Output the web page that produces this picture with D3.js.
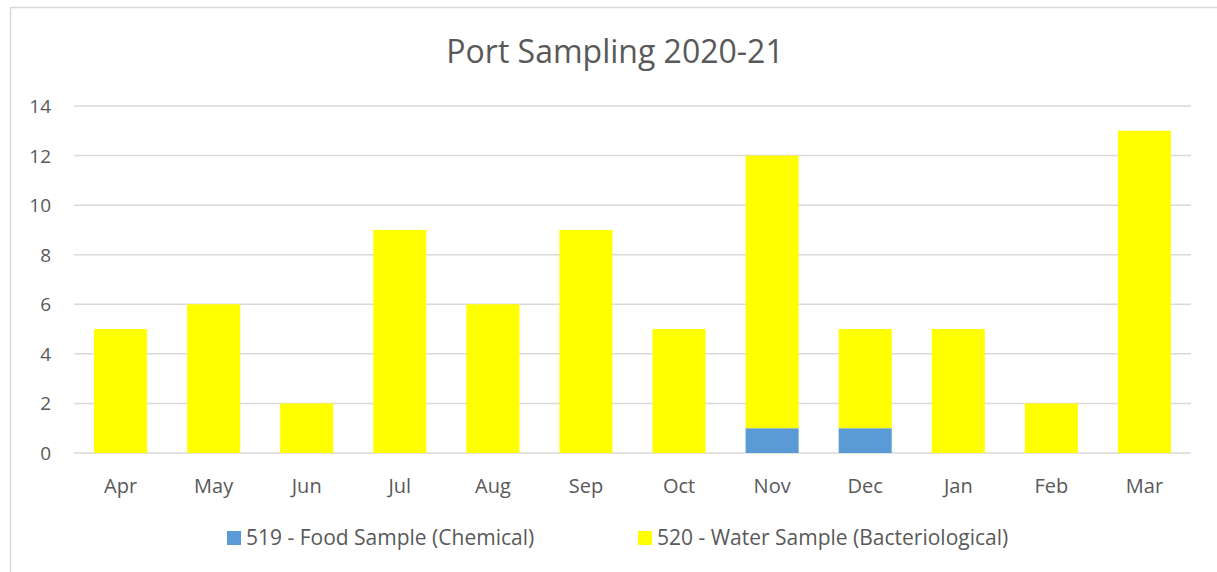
<!DOCTYPE html>
<html lang="en">
<head>
<meta charset="utf-8">
<title>Port Sampling 2020-21</title>
<script src="https://d3js.org/d3.v7.min.js"></script>
<style>
  body { margin: 0; background: #fff; }
  text { font-family: "Open Sans", "Noto Sans", sans-serif; fill: #595959; }
</style>
</head>
<body>
<script>
// data
var months = ["Apr", "May", "Jun", "Jul", "Aug", "Sep", "Oct", "Nov", "Dec", "Jan", "Feb", "Mar"];
var food = [0, 0, 0, 0, 0, 0, 0, 1, 1, 0, 0, 0];
var water = [5, 6, 2, 9, 6, 9, 5, 11, 4, 5, 2, 13];
var seriesNames = ["519 - Food Sample (Chemical)", "520 - Water Sample (Bacteriological)"];
var seriesColors = ["#5b9bd5", "#ffff00"];
var yTicks = [0, 2, 4, 6, 8, 10, 12, 14];

var width = 1217, height = 572;
var margin = {left: 74, right: 26, top: 106, bottom: 119};

var svg = d3.select("body").append("svg")
    .attr("width", width)
    .attr("height", height);

// chart frame
svg.append("rect")
    .attr("x", 10.5).attr("y", 7.5)
    .attr("width", 1220).attr("height", 600)
    .attr("fill", "none")
    .attr("stroke", "#d9d9d9")
    .attr("stroke-width", 1.5);

svg.append("text")
    .attr("x", 615).attr("y", 63)
    .attr("text-anchor", "middle")
    .style("font-size", "32px")
    .text("Port Sampling 2020-21");

var x = d3.scaleBand()
    .domain(months)
    .range([margin.left, width - margin.right])
    .paddingInner(0.43)
    .paddingOuter(0.215);

var y = d3.scaleLinear()
    .domain([0, 14])
    .range([height - margin.bottom, margin.top]);

// gridlines
svg.append("g").selectAll("line")
    .data(yTicks)
    .enter().append("line")
    .attr("x1", margin.left).attr("x2", width - margin.right)
    .attr("y1", function(d) { return y(d); })
    .attr("y2", function(d) { return y(d); })
    .attr("stroke", "#d9d9d9")
    .attr("stroke-width", 1.5);

// y labels
svg.append("g").selectAll("text")
    .data(yTicks)
    .enter().append("text")
    .attr("x", 51)
    .attr("y", function(d) { return y(d) + 7; })
    .attr("text-anchor", "end")
    .style("font-size", "19px")
    .text(function(d) { return d; });

// stacked bars
var rows = months.map(function(m, i) { return {month: m, food: food[i], water: water[i]}; });
var stack = d3.stack().keys(["food", "water"])(rows);

svg.append("g").selectAll("g")
    .data(stack)
    .enter().append("g")
    .attr("fill", function(d, i) { return seriesColors[i]; })
    .selectAll("rect")
    .data(function(d) { return d; })
    .enter().append("rect")
    .filter(function(d) { return d[1] - d[0] > 0; })
    .attr("x", function(d) { return x(d.data.month); })
    .attr("width", x.bandwidth())
    .attr("y", function(d) { return y(d[1]); })
    .attr("height", function(d) { return y(d[0]) - y(d[1]); });

// x labels
svg.append("g").selectAll("text")
    .data(months)
    .enter().append("text")
    .attr("x", function(d) { return x(d) + x.bandwidth() / 2; })
    .attr("y", 493)
    .attr("text-anchor", "middle")
    .style("font-size", "20px")
    .text(function(d) { return d; });

// legend
var legendX = [227, 638];
var legend = svg.append("g").selectAll("g")
    .data(seriesNames)
    .enter().append("g")
    .attr("transform", function(d, i) { return "translate(" + legendX[i] + ",531)"; });
legend.append("rect")
    .attr("width", 14).attr("height", 14)
    .attr("fill", function(d, i) { return seriesColors[i]; });
legend.append("text")
    .attr("x", 19).attr("y", 14)
    .style("font-size", "21px")
    .text(function(d) { return d; });
</script>
</body>
</html>
